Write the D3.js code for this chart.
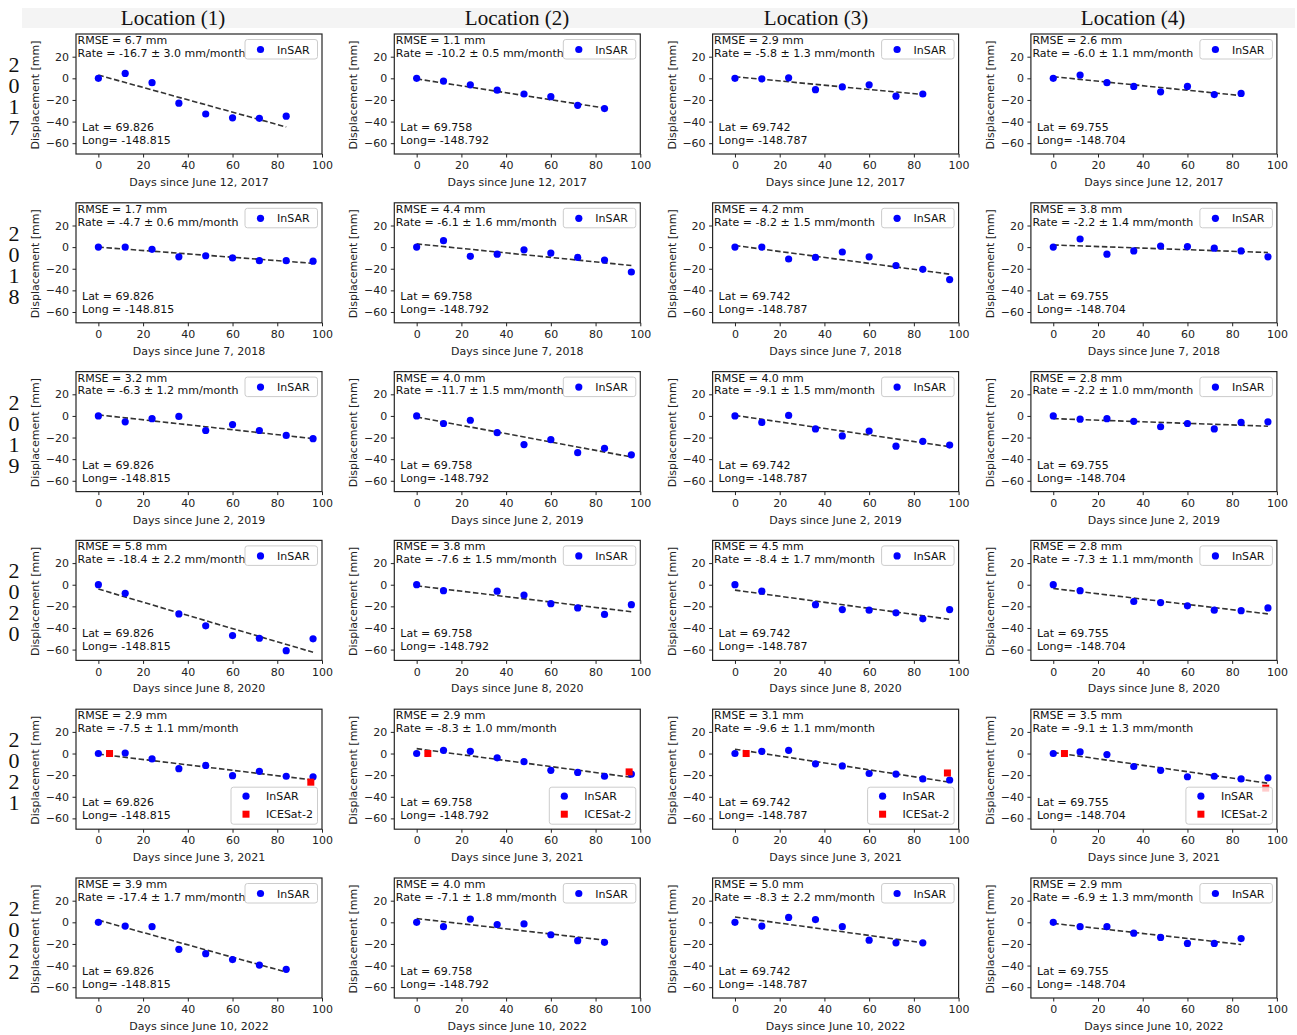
<!DOCTYPE html>
<html><head><meta charset="utf-8">
<script src="https://cdn.jsdelivr.net/npm/d3@7"></script>
<style>body{margin:0;background:#fff} svg{display:block}</style>
</head><body>
<script>
// ---------- DATA ----------
const locations = ["Location (1)", "Location (2)", "Location (3)", "Location (4)"];
const years = ["2017", "2018", "2019", "2020", "2021", "2022"];
const xAxisLabels = ["Days since June 12, 2017", "Days since June 7, 2018", "Days since June 2, 2019",
                     "Days since June 8, 2020", "Days since June 3, 2021", "Days since June 10, 2022"];
const lats = ["69.826", "69.758", "69.742", "69.755"];
const longs = ["-148.815", "-148.792", "-148.787", "-148.704"];
const longPrefix = [
  ["Long= ", "Long= ", "Long= ", "Long= "],
  ["Long = ", "Long= ", "Long= ", "Long= "],
  ["Long= ", "Long= ", "Long= ", "Long= "],
  ["Long= ", "Long= ", "Long= ", "Long= "],
  ["Long= ", "Long= ", "Long= ", "Long= "],
  ["Long= ", "Long= ", "Long= ", "Long= "]
];
const rmse = [
  ["6.7", "1.1", "2.9", "2.6"],
  ["1.7", "4.4", "4.2", "3.8"],
  ["3.2", "4.0", "4.0", "2.8"],
  ["5.8", "3.8", "4.5", "2.8"],
  ["2.9", "2.9", "3.1", "3.5"],
  ["3.9", "4.0", "5.0", "2.9"]
];
const rates = [
  ["-16.7 ± 3.0", "-10.2 ± 0.5", "-5.8 ± 1.3", "-6.0 ± 1.1"],
  ["-4.7 ± 0.6", "-6.1 ± 1.6", "-8.2 ± 1.5", "-2.2 ± 1.4"],
  ["-6.3 ± 1.2", "-11.7 ± 1.5", "-9.1 ± 1.5", "-2.2 ± 1.0"],
  ["-18.4 ± 2.2", "-7.6 ± 1.5", "-8.4 ± 1.7", "-7.3 ± 1.1"],
  ["-7.5 ± 1.1", "-8.3 ± 1.0", "-9.6 ± 1.1", "-9.1 ± 1.3"],
  ["-17.4 ± 1.7", "-7.1 ± 1.8", "-8.3 ± 2.2", "-6.9 ± 1.3"]
];

const days2017 = [0, 12, 24, 36, 48, 60, 72, 84];
const days2018 = [0, 12, 24, 36, 48, 60, 72, 84, 96];
const days2019 = [0, 12, 24, 36, 48, 60, 72, 84, 96];
const days2020 = [0, 12, 36, 48, 60, 72, 84, 96];
const days2021 = [0, 12, 24, 36, 48, 60, 72, 84, 96];
const days2022 = [0, 12, 24, 36, 48, 60, 72, 84];

const disp2017 = [
  [0, 4.5, -4, -23, -33, -36.5, -37, -35],
  [0, -2.5, -6, -11, -14.5, -17, -25, -28],
  [0, -0.5, 0.5, -10.5, -8, -6, -16.5, -14.5],
  [0, 3, -4, -7.5, -12.5, -7.5, -15, -14]
];
const disp2018 = [
  [0, 0, -2, -9, -8, -10, -12.5, -12.5, -13],
  [0, 6, -8.5, -6.5, -2.5, -5.5, -9.5, -12, -23],
  [0, 0, -11, -9.5, -4.5, -9, -17, -20.5, -30],
  [0, 7.5, -6.5, -3.5, 1, 0.5, -1, -3.5, -9]
];
const disp2019 = [
  [0, -5.5, -2.5, -0.5, -13.5, -8, -13.5, -18, -21],
  [0, -7, -4, -15.5, -26.5, -22, -34, -30, -36],
  [0, -6, 0.5, -12, -18.5, -14, -28, -23.5, -27],
  [0, -3, -2.5, -5, -10, -7, -12, -6, -5.5]
];
const disp2020 = [
  [0, -8, -27, -38, -47, -49.5, -61, -50],
  [0, -5.5, -6, -9.5, -17.5, -21.5, -27.5, -18.5],
  [0, -6, -18.5, -23, -23.5, -26, -31.5, -23],
  [0, -5.5, -15.5, -16.5, -19.5, -23.5, -24, -21.5]
];
const disp2021 = [
  [0, 0.5, -5, -14, -11, -20.5, -16.5, -21, -21.5],
  [0, 3, 2, -4, -7.5, -15.5, -17.5, -21, -19],
  [0, 2, 3, -9.5, -11.5, -18.5, -19, -23.5, -24.5],
  [0, 1.5, -1, -12, -15.5, -21.5, -21, -23.5, -22.5]
];
const disp2022 = [
  [0, -3.5, -4, -25, -29, -34.5, -39.5, -43.5],
  [0, -4, 3, -2, -1.5, -11.5, -17, -18.5],
  [0, -3.5, 4.5, 2.5, -4, -16.5, -19, -19],
  [0, -4, -4, -10, -14, -19.5, -19.5, -15]
];

// ICESat-2 (2021 only)
const iceDays2021 = [5, 95];
const ice2021 = [
  [0, -26.5],
  [0, -17],
  [0, -18],
  [0, -32]
];

// fitted trend line: value at first day, value at last day
const fit2017 = [[3, -45], [-0.5, -27.5], [1.5, -15], [1.5, -16]];
const fit2018 = [[0, -15], [3, -17], [1.5, -25], [2, -5]];
const fit2019 = [[1, -21], [-1, -38], [0.5, -28.5], [-2.5, -9.5]];
const fit2020 = [[-4, -62.5], [-1, -25], [-5, -32], [-3.5, -27]];
const fit2021 = [[-0.5, -24.5], [4.5, -22], [4, -26.5], [1, -27.5]];
const fit2022 = [[2, -46], [3.5, -16.5], [5, -19], [-1, -20.5]];

const xTicks = [0, 20, 40, 60, 80, 100];
const yTicks = [-60, -40, -20, 0, 20];

const daysByYear = [days2017, days2018, days2019, days2020, days2021, days2022];
const dispByYear = [disp2017, disp2018, disp2019, disp2020, disp2021, disp2022];
const fitByYear = [fit2017, fit2018, fit2019, fit2020, fit2021, fit2022];

// ---------- LAYOUT ----------
const W = 1297, H = 1035;
const panelW = 246, panelH = 120;
const colLeft = c => 76 + c * 318.3;
const rowTop = r => 34 + r * 168.8;
const headerX = [173, 517, 816, 1133];
const FONT = "'DejaVu Sans', sans-serif";
const SERIF = "'Liberation Serif', 'Times New Roman', serif";

const svg = d3.select("body").append("svg").attr("width", W).attr("height", H);
svg.append("rect").attr("width", W).attr("height", H).attr("fill", "#fff");
svg.append("rect").attr("x", 22).attr("y", 8).attr("width", 1273).attr("height", 20).attr("fill", "#f4f4f4");

locations.forEach((t, c) => {
  svg.append("text").attr("x", headerX[c]).attr("y", 25)
    .attr("text-anchor", "middle").attr("font-family", SERIF).attr("font-size", 21)
    .attr("fill", "#111").text(t);
});

// stacked year digits: one text element, per-character positions
years.forEach((yr, r) => {
  const n = yr.length;
  svg.append("text")
    .attr("x", d3.range(n).map(() => 14).join(" "))
    .attr("y", d3.range(n).map(i => (rowTop(r) + 38 + i * 21).toFixed(1)).join(" "))
    .attr("text-anchor", "middle")
    .attr("font-family", SERIF).attr("font-size", 22).attr("fill", "#111")
    .text(yr);
});

const x = d3.scaleLinear().domain([-10, 100]).range([0, panelW]);
const y = d3.scaleLinear().domain([-70, 41]).range([panelH, 0]);
const fmt = d3.format("d");

for (let r = 0; r < years.length; r++) {
  const days = daysByYear[r];
  for (let c = 0; c < 4; c++) {
    const g = svg.append("g").attr("transform", `translate(${colLeft(c)},${rowTop(r)})`);
    g.append("rect").attr("width", panelW).attr("height", panelH).attr("fill", "#fff");

    const xa = g.append("g").attr("transform", `translate(0,${panelH})`)
      .call(d3.axisBottom(x).tickValues(xTicks).tickSize(3.5).tickPadding(4).tickFormat(fmt));
    const ya = g.append("g")
      .call(d3.axisLeft(y).tickValues(yTicks).tickSize(3.5).tickPadding(3.5).tickFormat(fmt));
    [xa, ya].forEach(a => {
      a.select(".domain").remove();
      a.selectAll("line").attr("stroke", "#222").attr("stroke-width", 1);
      a.selectAll("text").attr("font-family", FONT).attr("font-size", 11).attr("fill", "#222");
    });

    // axis titles
    g.append("text").attr("x", panelW / 2).attr("y", panelH + 32)
      .attr("text-anchor", "middle").attr("font-family", FONT).attr("font-size", 11).attr("fill", "#222")
      .text(xAxisLabels[r]);
    g.append("text").attr("transform", `translate(-37,${panelH / 2 + 1}) rotate(-90)`)
      .attr("text-anchor", "middle").attr("font-family", FONT).attr("font-size", 11).attr("fill", "#222")
      .text("Displacement [mm]");

    // fit line
    const f = fitByYear[r][c];
    const fitPts = [[days[0], f[0]], [days[days.length - 1], f[1]]];
    g.append("path").attr("d", d3.line().x(d => x(d[0])).y(d => y(d[1]))(fitPts))
      .attr("fill", "none").attr("stroke", "#333").attr("stroke-width", 1.6)
      .attr("stroke-dasharray", "5.5,2.6");

    // InSAR points
    const vals = dispByYear[r][c];
    g.selectAll("circle.pt").data(days.map((d, i) => [d, vals[i]])).enter()
      .append("circle").attr("class", "pt")
      .attr("cx", d => x(d[0])).attr("cy", d => y(d[1])).attr("r", 3.6).attr("fill", "#0000ff");

    // ICESat-2
    if (years[r] === "2021") {
      const iv = ice2021[c];
      g.selectAll("rect.ice").data(iceDays2021.map((d, i) => [d, iv[i]])).enter()
        .append("rect").attr("class", "ice")
        .attr("x", d => x(d[0]) - 3.5).attr("y", d => y(d[1]) - 3.5)
        .attr("width", 7).attr("height", 7).attr("fill", "#ff0000");
    }

    const txt = (s, tx, ty) => g.append("text").attr("x", tx).attr("y", ty)
      .attr("font-family", FONT).attr("font-size", 11).attr("fill", "#111").text(s);

    // annotations
    txt(`RMSE = ${rmse[r][c]} mm`, 1.5, 10);
    txt(`Rate = ${rates[r][c]} mm/month`, 1.5, 22.8);
    txt(`Lat = ${lats[c]}`, 6, 97);
    txt(`${longPrefix[r][c]}${longs[c]}`, 6, 110);

    // legend
    if (years[r] === "2021") {
      g.append("rect").attr("x", 155).attr("y", 78).attr("width", 86.5).attr("height", 37)
        .attr("rx", 2.5).attr("fill", "#fff").attr("fill-opacity", 0.8)
        .attr("stroke", "#cccccc").attr("stroke-width", 1);
      g.append("circle").attr("cx", 170).attr("cy", 87).attr("r", 3.6).attr("fill", "#0000ff");
      g.append("rect").attr("x", 166.5).attr("y", 101.5).attr("width", 7).attr("height", 7).attr("fill", "#ff0000");
      txt("InSAR", 190, 91);
      txt("ICESat-2", 190, 109);
    } else {
      g.append("rect").attr("x", 169).attr("y", 5.5).attr("width", 72.5).attr("height", 19.5)
        .attr("rx", 2.5).attr("fill", "#fff").attr("fill-opacity", 0.8)
        .attr("stroke", "#cccccc").attr("stroke-width", 1);
      g.append("circle").attr("cx", 184.5).attr("cy", 15.5).attr("r", 3.6).attr("fill", "#0000ff");
      txt("InSAR", 201, 19.5);
    }

    // frame
    g.append("rect").attr("width", panelW).attr("height", panelH)
      .attr("fill", "none").attr("stroke", "#262626").attr("stroke-width", 1.2);
  }
}
</script>
</body></html>
